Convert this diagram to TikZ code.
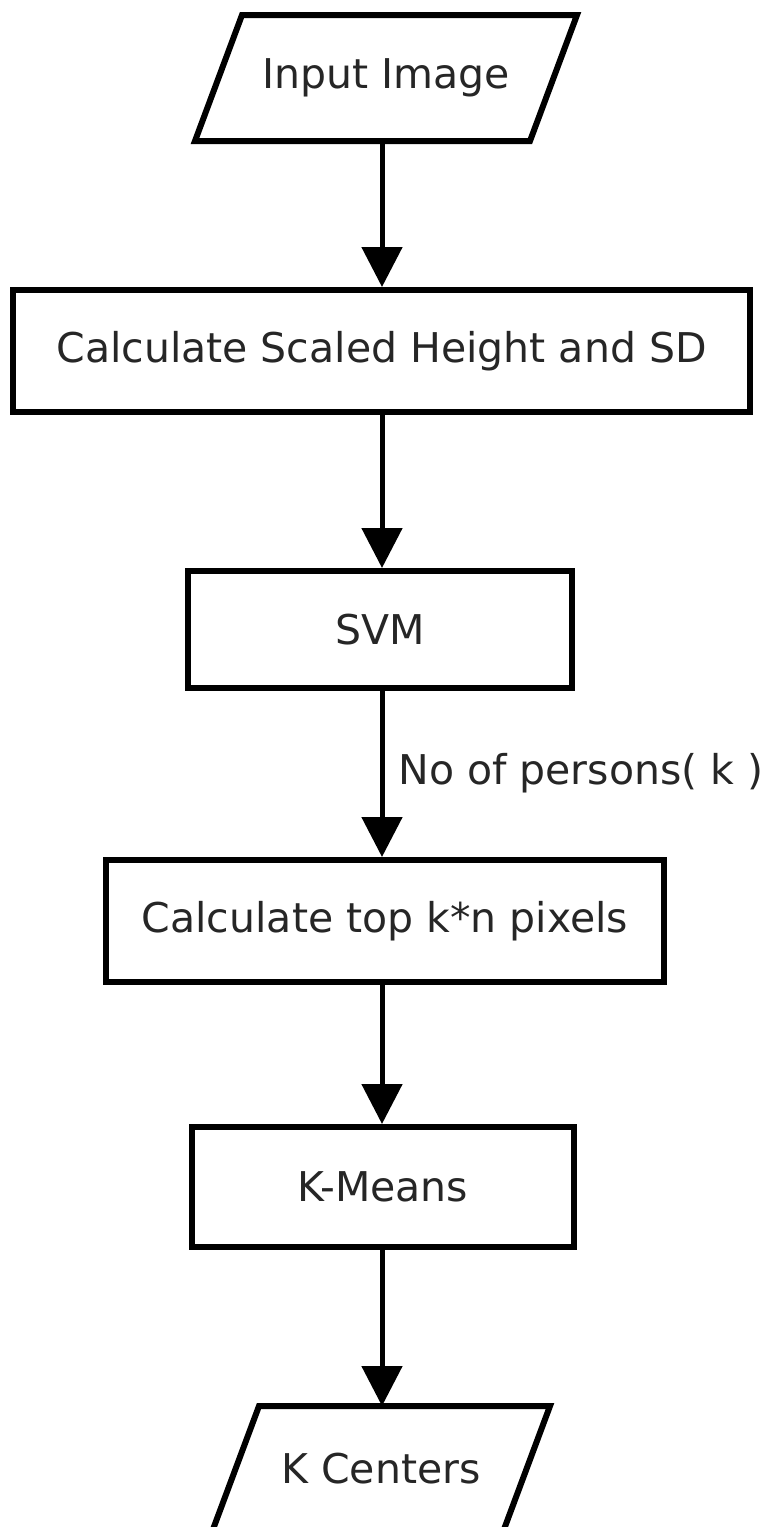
\documentclass[tikz,border=0pt]{standalone}
\usepackage{fontspec}
\setmainfont{DejaVu Sans}
\usetikzlibrary{arrows.meta,calc}
\tikzset{
  every node/.style={font=\fontsize{20.5pt}{24pt}\selectfont, text=black!85},
  procbox/.style={draw=black, line width=3pt, inner sep=0pt, fill=white},
  iobox/.style={inner sep=0pt, outer sep=0pt, minimum height=63pt},
  ioline/.style={draw=black, line width=3pt, line join=miter},
  flow/.style={draw=black, line width=2.5pt, -{Triangle[length=20pt,width=20pt]}},
  lbl/.style={inner sep=0pt, anchor=base west}
}
\begin{document}
\begin{tikzpicture}[x=0.5pt, y=-0.5pt]
\useasboundingbox (0,0) rectangle (768,1527);
\clip (0,0) rectangle (768,1527);
\coordinate (spine) at (382,0);

% Input Image (parallelogram)
\node[iobox] (in) at (386,78) {Input Image};
\draw[ioline] ($(in)+(-144,-63)$) -- ($(in)+(191,-63)$) -- ($(in)+(144,63)$) -- ($(in)+(-191,63)$) -- cycle;

\node[procbox, minimum width=368.5pt, minimum height=61pt] (calc) at (381.5,351) {Calculate Scaled Height and SD};
\node[procbox, minimum width=192pt, minimum height=58.5pt] (svm) at (380,629.5) {SVM};
\node[procbox, minimum width=279pt, minimum height=61pt] (topk) at (385,921) {Calculate top k*n pixels};
\node[procbox, minimum width=191pt, minimum height=60pt] (km) at (383,1187) {K-Means};

% K Centers (parallelogram)
\node[iobox] (kc) at (381,1469) {K Centers};
\draw[ioline] ($(kc)+(-122,-63)$) -- ($(kc)+(169,-63)$) -- ($(kc)+(122,63)$) -- ($(kc)+(-169,63)$) -- cycle;

% connectors
\draw[flow] (in.south -| spine) -- (calc.north -| spine);
\draw[flow] (calc.south -| spine) -- (svm.north -| spine);
\draw[flow] (svm.south -| spine) -- (topk.north -| spine);
\draw[flow] (topk.south -| spine) -- (km.north -| spine);
\draw[flow] (km.south -| spine) -- (kc.north -| spine);

\node[lbl] (lab) at (398,784) {No of persons( k )};
\end{tikzpicture}
\end{document}
